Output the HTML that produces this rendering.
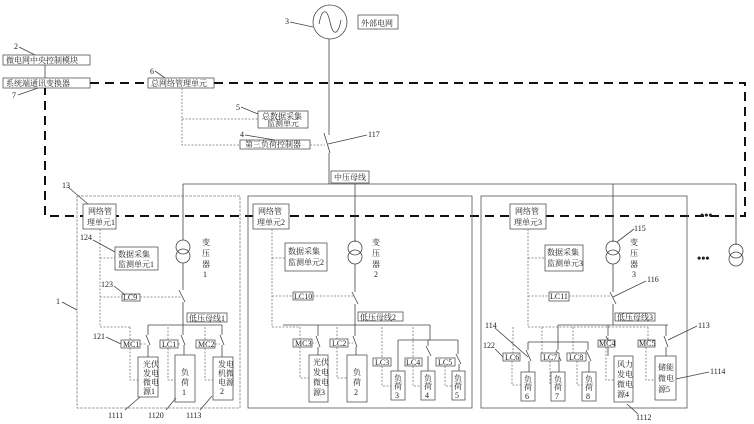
<!DOCTYPE html>
<html><head><meta charset="utf-8"><style>
body{margin:0;background:#fff}
svg{display:block}
text{font-family:"Liberation Serif","Noto Serif CJK SC","Noto Sans CJK SC",serif;font-size:8px;fill:#222}
.b{fill:#fff;stroke:#555;stroke-width:0.8}
.l{stroke:#444;stroke-width:0.8;fill:none}
.d{stroke:#777;stroke-width:0.8;stroke-dasharray:2,1.5;fill:none}
.D{stroke:#111;stroke-width:2;stroke-dasharray:9,6;fill:none}
.p{stroke:#888;stroke-width:0.8;fill:none;stroke-dasharray:3,1}
</style></head><body>
<svg width="754" height="424" viewBox="0 0 754 424" xmlns="http://www.w3.org/2000/svg">
<!-- generator -->
<circle cx="330" cy="22" r="17" class="l"/>
<path d="M319 24 C322 8,327 8,330 22 C333 36,338 36,341 20" class="l"/>
<rect x="358" y="15" width="40" height="14" class="b"/><text x="361" y="26">外部电网</text>
<text x="285" y="24">3</text><line x1="290" y1="22" x2="313" y2="27" class="l"/>
<line x1="329" y1="39" x2="329" y2="135" class="l"/>
<line x1="324" y1="133" x2="330" y2="153" class="l"/>
<line x1="328" y1="144" x2="367" y2="135" class="l"/><text x="368" y="137">117</text>
<line x1="329" y1="153" x2="329" y2="184" class="l"/>
<rect x="331" y="171" width="38" height="12" class="b"/><text x="334" y="180">中压母线</text>
<line x1="183" y1="184" x2="736" y2="184" class="l"/>
<line x1="736" y1="184" x2="736" y2="245" class="l"/>
<!-- top left -->
<text x="14" y="49">2</text><line x1="19" y1="47" x2="35" y2="55" class="l"/>
<rect x="3" y="55" width="87" height="10" class="b"/><text x="6" y="63">微电网中央控制模块</text>
<line x1="45" y1="65" x2="45" y2="78" class="l"/>
<rect x="3" y="78" width="87" height="10" class="b"/><text x="6" y="86">系统端通讯变换器</text>
<text x="12" y="98">7</text><line x1="18" y1="95" x2="38" y2="88" class="l"/>
<text x="150" y="74">6</text><line x1="155" y1="71" x2="165" y2="78" class="l"/>
<rect x="148" y="78" width="66" height="10" class="b"/><text x="151" y="86">总网络管理单元</text>
<path d="M90 83 H148 M214 83 H745 V216 H45 V88" class="D"/>
<path d="M182 88 V145 H240 M182 119 H258" class="d"/>
<text x="236" y="110">5</text><line x1="241" y1="107" x2="258" y2="114" class="l"/>
<rect x="258" y="111" width="50" height="17" class="b"/><text x="262" y="119">总数据采集</text><text x="267" y="126">监测单元</text>
<text x="240" y="137">4</text><line x1="245" y1="135" x2="275" y2="140" class="l"/>
<rect x="240" y="140" width="70" height="9" class="b"/><text x="245" y="147">第三负荷控制器</text>
<line x1="310" y1="145" x2="325" y2="145" class="d"/>
<!-- panels -->
<rect x="77" y="196" width="163" height="212" class="p"/>
<rect x="248" y="196" width="224" height="212" fill="none" stroke="#555" stroke-width="0.8"/>
<rect x="481" y="196" width="206" height="212" fill="none" stroke="#555" stroke-width="0.8"/>
<text x="700" y="219" style="font-size:12px;font-weight:bold">•••</text>
<text x="697" y="262" style="font-size:12px;font-weight:bold">•••</text>
<g class="l"><circle cx="736" cy="251" r="7"/><circle cx="736" cy="259" r="7"/></g>

<!-- Panel1 -->
<text x="62" y="188">13</text><line x1="68" y1="187" x2="88" y2="204" class="l"/>
<rect x="83" y="204" width="33" height="25" class="b"/><text x="88" y="214">网络管</text><text x="87" y="225">理单元1</text>
<text x="56" y="304">1</text><line x1="62" y1="302" x2="77" y2="310" class="l"/>
<path d="M100 229 V327 H130 M100 258 H115 M100 297 H122" class="d"/>
<text x="80" y="240">124</text><line x1="93" y1="240" x2="115" y2="252" class="l"/>
<rect x="115" y="247" width="43" height="23" class="b"/><text x="118" y="257">数据采集</text><text x="118" y="267">监测单元1</text>
<line x1="183" y1="184" x2="183" y2="240" class="l"/>
<g class="l"><circle cx="183" cy="247" r="7"/><circle cx="183" cy="256" r="7"/></g>
<text x="202" y="245">变</text><text x="202" y="256">压</text><text x="202" y="267">器</text><text x="203" y="277">1</text>
<path d="M183 263 V290 M179 290 L185 302 M183 302 V325" class="l"/>
<text x="101" y="287">123</text><line x1="114" y1="286" x2="124" y2="294" class="l"/>
<rect x="122" y="294" width="18" height="7" class="b"/><text x="123" y="300">LC9</text>
<line x1="140" y1="297" x2="182" y2="297" class="d"/>
<rect x="187" y="313" width="40" height="9" class="b"/><text x="189" y="321">低压母线1</text>
<path d="M148 325 H222 M148 325 V335 M183 325 V335 M222 325 V335" class="l"/>
<path d="M130 327 V340 M168 327 V340 M205 327 V340" class="d"/>
<path d="M146 335 L150 345 M148 345 V357 M181 335 L185 345 M184 345 V355 M220 335 L224 345 M222 345 V357" class="l"/>
<text x="93" y="339">121</text><line x1="106" y1="337" x2="121" y2="344" class="l"/>
<rect x="121" y="340" width="19" height="8" class="b"/><text x="123" y="347">MC1</text>
<rect x="160" y="340" width="18" height="8" class="b"/><text x="162" y="347">LC1</text>
<rect x="196" y="340" width="19" height="8" class="b"/><text x="198" y="347">MC2</text>
<path d="M140 344 H146 M178 344 H181 M215 344 H220" class="d"/>
<path d="M130 348 V380 H138 M168 348 V380 H175 M205 348 V380 H213" class="d"/>
<rect x="138" y="357" width="20" height="40" class="b"/><text x="143" y="367">光伏</text><text x="143" y="376">发电</text><text x="143" y="385">微电</text><text x="143" y="394">源1</text>
<rect x="175" y="355" width="20" height="47" class="b"/><text x="181" y="375">负</text><text x="181" y="385">荷</text><text x="182" y="395">1</text>
<rect x="213" y="357" width="20" height="43" class="b"/><text x="218" y="367">发电</text><text x="218" y="376">机微</text><text x="218" y="385">电源</text><text x="220" y="394">2</text>
<line x1="125" y1="410" x2="140" y2="397" class="l"/><text x="108" y="418">1111</text>
<line x1="166" y1="410" x2="176" y2="398" class="l"/><text x="148" y="418">1120</text>
<line x1="200" y1="410" x2="212" y2="396" class="l"/><text x="186" y="418">1113</text>

<!-- Panel2 -->
<rect x="253" y="204" width="36" height="25" class="b"/><text x="258" y="214">网络管</text><text x="257" y="225">理单元2</text>
<path d="M272 229 V327 H300 M272 258 H285 M272 296 H293" class="d"/>
<rect x="285" y="243" width="42" height="28" class="b"/><text x="288" y="254">数据采集</text><text x="288" y="265">监测单元2</text>
<line x1="355" y1="184" x2="355" y2="242" class="l"/>
<g class="l"><circle cx="355" cy="248" r="7"/><circle cx="355" cy="257" r="7"/></g>
<text x="372" y="245">变</text><text x="372" y="256">压</text><text x="372" y="267">器</text><text x="374" y="277">2</text>
<path d="M355 264 V292 M352 292 L358 304 M355 304 V325" class="l"/>
<rect x="293" y="292" width="20" height="8" class="b"/><text x="294" y="299">LC10</text>
<line x1="313" y1="296" x2="353" y2="296" class="d"/>
<rect x="358" y="312" width="45" height="9" class="b"/><text x="360" y="320">低压母线2</text>
<path d="M283 325 H430 M318 325 V336 M355 325 V336 M430 325 V336" class="l"/>
<path d="M300 327 V339 M337 327 V339 M382 327 V358 M413 327 V358" class="d"/>
<path d="M316 336 L320 347 M318 347 V355 M353 336 L357 347 M356 347 V355" class="l"/>
<path d="M398 340 H458 M398 340 V371 M428 340 V346 M458 340 V354 M426 346 L431 356 M428 356 V371 M456 354 L461 364 M459 364 V371" class="l"/>
<path d="M430 336 V340" class="l"/>
<rect x="293" y="339" width="19" height="8" class="b"/><text x="295" y="346">MC3</text>
<rect x="330" y="339" width="18" height="8" class="b"/><text x="332" y="346">LC2</text>
<path d="M312 343 H316 M348 343 H353 M300 347 V378 H309 M337 347 V378 H347" class="d"/>
<rect x="309" y="355" width="19" height="47" class="b"/><text x="313" y="365">光伏</text><text x="313" y="375">发电</text><text x="313" y="385">微电</text><text x="313" y="395">源3</text>
<rect x="347" y="355" width="20" height="47" class="b"/><text x="353" y="375">负</text><text x="353" y="385">荷</text><text x="354" y="395">2</text>
<rect x="373" y="358" width="18" height="8" class="b"/><text x="375" y="365">LC3</text>
<rect x="405" y="358" width="17" height="8" class="b"/><text x="406" y="365">LC4</text>
<rect x="436" y="358" width="19" height="8" class="b"/><text x="438" y="365">LC5</text>
<path d="M382 366 V386 H391 M413 366 V386 H421 M445 366 V386 H452" class="d"/>
<rect x="391" y="371" width="14" height="29" class="b"/><text x="394" y="381">负</text><text x="394" y="389">荷</text><text x="395" y="398">3</text>
<rect x="421" y="371" width="14" height="29" class="b"/><text x="424" y="381">负</text><text x="424" y="389">荷</text><text x="425" y="398">4</text>
<rect x="452" y="371" width="13" height="29" class="b"/><text x="454" y="381">负</text><text x="454" y="389">荷</text><text x="455" y="398">5</text>

<!-- Panel3 -->
<rect x="510" y="204" width="36" height="25" class="b"/><text x="515" y="214">网络管</text><text x="514" y="225">理单元3</text>
<path d="M528 229 V327 H648 M528 258 H545 M528 296 H549" class="d"/>
<rect x="545" y="245" width="38" height="26" class="b"/><text x="547" y="255">数据采集</text><text x="547" y="266">监测单元3</text>
<line x1="613" y1="184" x2="613" y2="242" class="l"/>
<g class="l"><circle cx="613" cy="248" r="7"/><circle cx="613" cy="257" r="7"/></g>
<text x="630" y="245">变</text><text x="630" y="256">压</text><text x="630" y="267">器</text><text x="632" y="277">3</text>
<text x="634" y="231">115</text><line x1="634" y1="229" x2="617" y2="242" class="l"/>
<path d="M613 264 V292 M610 292 L616 304 M613 304 V325" class="l"/>
<line x1="613" y1="297" x2="646" y2="281" class="l"/><text x="647" y="282">116</text>
<rect x="549" y="292" width="20" height="9" class="b"/><text x="550" y="299">LC11</text>
<line x1="569" y1="296" x2="611" y2="296" class="d"/>
<rect x="615" y="313" width="40" height="8" class="b"/><text x="617" y="320">低压母线3</text>
<path d="M558 325 H668 M558 325 V342 M608 325 V336 M666 325 V336" class="l"/>
<path d="M513 327 V353 M542 327 V353 M573 327 V353 M608 327 V340 M648 327 V340" class="d"/>
<path d="M528 342 H588 M528 342 V350 M558 342 V350 M588 342 V350 M526 350 L531 361 M529 361 V372 M556 350 L561 361 M559 361 V372 M586 350 L591 361 M589 361 V372" class="l"/>
<path d="M606 336 L611 347 M608 347 V356 M664 336 L668 347 M666 347 V356" class="l"/>
<rect x="503" y="353" width="17" height="8" class="b"/><text x="505" y="360">LC6</text>
<rect x="541" y="353" width="18" height="8" class="b"/><text x="543" y="360">LC7</text>
<rect x="567" y="353" width="19" height="8" class="b"/><text x="569" y="360">LC8</text>
<rect x="598" y="340" width="17" height="7" class="b"/><text x="599" y="346">MC4</text>
<rect x="638" y="340" width="17" height="7" class="b"/><text x="639" y="346">MC5</text>
<path d="M512 361 V385 H521 M550 361 V385 H551 M577 361 V385 H582 M606 347 V380 H614 M646 347 V380 H655" class="d"/>
<rect x="521" y="372" width="14" height="29" class="b"/><text x="524" y="382">负</text><text x="524" y="390">荷</text><text x="525" y="399">6</text>
<rect x="551" y="372" width="14" height="29" class="b"/><text x="554" y="382">负</text><text x="554" y="390">荷</text><text x="555" y="399">7</text>
<rect x="582" y="372" width="14" height="29" class="b"/><text x="585" y="382">负</text><text x="585" y="390">荷</text><text x="586" y="399">8</text>
<rect x="614" y="356" width="19" height="46" class="b"/><text x="617" y="367">风力</text><text x="617" y="377">发电</text><text x="617" y="387">微电</text><text x="617" y="397">源4</text>
<rect x="655" y="356" width="21" height="44" class="b"/><text x="658" y="370">储能</text><text x="658" y="381">微电</text><text x="658" y="392">源5</text>
<text x="485" y="328">114</text><line x1="495" y1="328" x2="528" y2="357" class="l"/>
<text x="483" y="348">122</text><line x1="495" y1="349" x2="503" y2="357" class="l"/>
<text x="698" y="328">113</text><line x1="697" y1="326" x2="668" y2="340" class="l"/>
<text x="710" y="374">1114</text><line x1="709" y1="372" x2="676" y2="379" class="l"/>
<text x="636" y="420">1112</text><line x1="638" y1="414" x2="627" y2="404" class="l"/>
</svg>
</body></html>
